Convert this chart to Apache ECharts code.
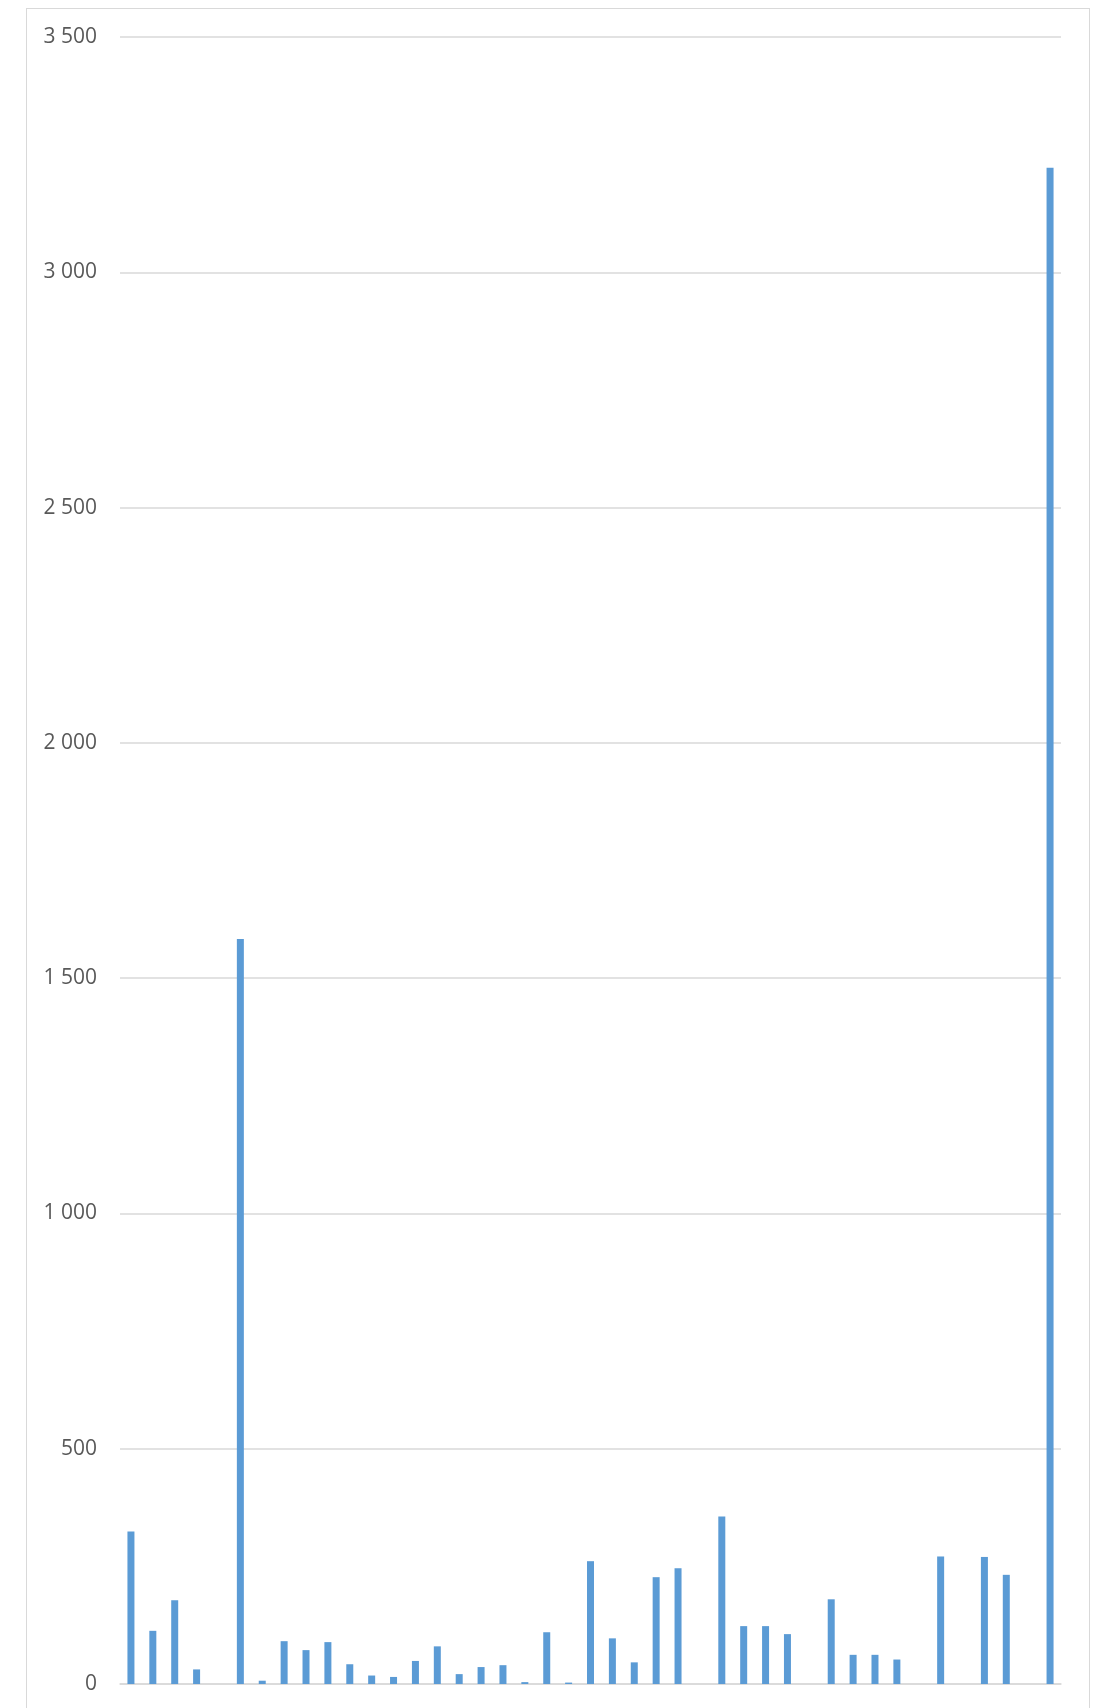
<!DOCTYPE html>
<html>
<head>
<meta charset="utf-8">
<script src="https://cdn.jsdelivr.net/npm/echarts@6/dist/echarts.min.js"></script>
<style>
html,body{margin:0;padding:0;background:#fff;overflow:hidden;}
#frame{position:absolute;left:26px;top:8px;width:1062px;height:1760px;border:1.5px solid #d9d9d9;border-bottom:none;}
#chart{position:absolute;left:0;top:0;width:1093px;height:1708px;}
</style>
</head>
<body>
<div id="frame"></div>
<div id="chart"></div>
<script>
// 43 categories (no visible labels in the reference)
const categories = Array.from({length: 43}, (_, i) => String(i + 1));
const values = [
  324, 113, 178, 31, null, 1583, 7, 91, 72, 89,
  42, 18, 15, 49, 80, 21, 36, 40, 4, 110,
  3, 261, 97, 46, 227, 246, null, 356, 123, 123,
  106, null, 180, 62, 62, 52, null, 271, null, 270,
  232, null, 3222
];
const yTicks = { min: 0, max: 3500, interval: 500 };

const chart = echarts.init(document.getElementById('chart'), null, {renderer: 'canvas'});
chart.setOption({
  animation: false,
  backgroundColor: 'transparent',
  grid: { left: 120, right: 32, top: 37, bottom: 24, containLabel: false },
  xAxis: {
    type: 'category',
    data: categories,
    axisLine: { show: true, lineStyle: { color: '#d9d9d9', width: 1.5 } },
    axisTick: { show: false },
    axisLabel: { show: false },
    splitLine: { show: false }
  },
  yAxis: {
    type: 'value',
    min: yTicks.min, max: yTicks.max, interval: yTicks.interval,
    axisLine: { show: false },
    axisTick: { show: false },
    axisLabel: {
      margin: 23,
      color: '#595959',
      fontFamily: 'Open Sans',
      fontSize: 21,
      formatter: v => String(v).replace(/\B(?=(\d{3})+(?!\d))/g, ' ')
    },
    splitLine: { show: true, lineStyle: { color: '#d9d9d9', width: 1.5 } }
  },
  series: [{
    type: 'bar',
    data: values,
    barWidth: 7,
    itemStyle: { color: '#5b9bd5' }
  }]
});
</script>
</body>
</html>
